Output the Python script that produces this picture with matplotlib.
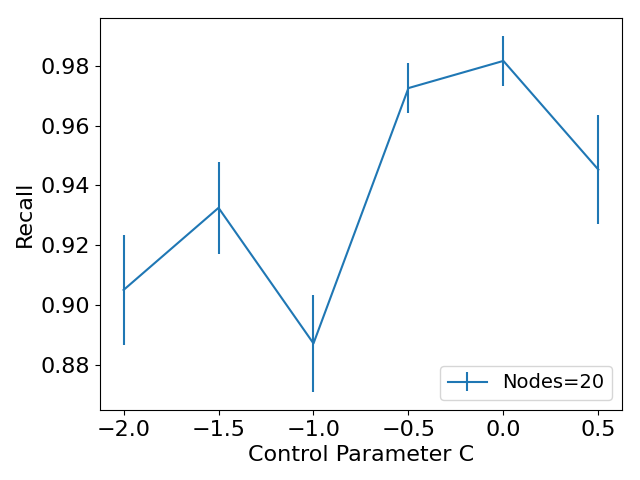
import numpy as np
from matplotlib import pyplot as plt

c_values = [-2.0, -1.5, -1.0, -0.5, 0.0, 0.5]
recall = [0.905, 0.9325, 0.8871, 0.9726, 0.9817, 0.9453]
recall_err = [0.0184, 0.0155, 0.0163, 0.0083, 0.0084, 0.0182]

plt.rcParams['font.size'] = 16
plt.figure(figsize=(6.4, 4.8), dpi=100)
plt.errorbar(c_values, recall, yerr=recall_err, label='Nodes=20')
plt.xlabel('Control Parameter C')
plt.ylabel('Recall')
plt.legend(loc='lower right', fontsize=14)
plt.subplots_adjust(left=0.156, right=0.972, top=0.9625, bottom=0.146)
plt.savefig('out.png')
